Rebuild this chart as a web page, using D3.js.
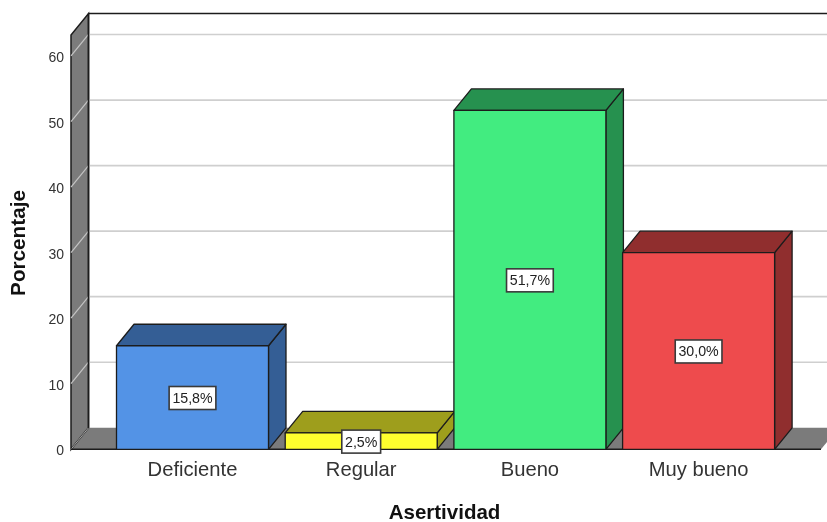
<!DOCTYPE html>
<html><head><meta charset="utf-8">
<script src="https://cdn.jsdelivr.net/npm/d3@7"></script>
<style>html,body{margin:0;background:#fff}svg{display:block;filter:blur(.35px)}text{font-family:"Liberation Sans",Arial,sans-serif}</style>
</head><body><svg id="c" width="827" height="522"></svg>
<script>
const categories=["Deficiente","Regular","Bueno","Muy bueno"];
const values=[15.8,2.5,51.7,30.0];
const labels=["15,8%","2,5%","51,7%","30,0%"];
const frontColors=["#5393e6","#ffff2e","#42ec80","#ee4b4d"];
const sideColors=["#345e95","#9e9e1c","#26914f","#902e2e"];
const yTicks=[0,10,20,30,40,50,60];

const svg=d3.select("#c");
const dx=17.5,dy=-21.5,left=71,right=821,yMax=63.2;
const y=d3.scaleLinear().domain([0,yMax]).range([449.3,35]);
const x=d3.scaleBand().domain(categories).range([108.15,782.95]).paddingInner(.099).paddingOuter(.0495);
const poly=p=>p.map(q=>q.join(",")).join(" ");
const y0=y(0),yT=y(yMax);
const dark="#1c1c1c",grey="#7b7b7b";

svg.append("polygon").attr("points",poly([[left,y0],[left+dx,y0+dy],[right+dx,y0+dy],[right,y0]])).attr("fill",grey);
svg.append("polygon").attr("points",poly([[left,y0],[left,yT],[left+dx,yT+dy],[left+dx,y0+dy]])).attr("fill",grey).attr("stroke",dark).attr("stroke-width",1.5);
svg.append("line").attr("x1",left+dx).attr("x2",827).attr("y1",yT+dy).attr("y2",yT+dy).attr("stroke",dark).attr("stroke-width",1.6);
yTicks.filter(d=>d>0).forEach(t=>{
  svg.append("line").attr("x1",left+dx).attr("x2",827).attr("y1",y(t)+dy).attr("y2",y(t)+dy).attr("stroke","#cfcfcf").attr("stroke-width",1.7);
  svg.append("line").attr("x1",left).attr("x2",left+dx).attr("y1",y(t)).attr("y2",y(t)+dy).attr("stroke","#c4c4c4").attr("stroke-width",1.2);
});
svg.append("line").attr("x1",left).attr("x2",left+dx).attr("y1",y0).attr("y2",y0+dy).attr("stroke","#a8a8a8").attr("stroke-width",1);
svg.append("line").attr("x1",left+dx).attr("x2",left+dx).attr("y1",yT+dy).attr("y2",y0+dy).attr("stroke",dark).attr("stroke-width",1.6);
svg.append("line").attr("x1",left).attr("x2",right).attr("y1",y0).attr("y2",y0).attr("stroke",dark).attr("stroke-width",1.6);

const g=svg.selectAll("g.bar").data(categories).join("g").attr("class","bar");
g.each(function(c,i){
  const s=d3.select(this),x0=x(c),x1=x0+x.bandwidth(),t=y(values[i]);
  const st={stroke:dark,"stroke-width":1.3,"stroke-linejoin":"round"};
  const add=(pts,f)=>{const e=s.append("polygon").attr("points",poly(pts)).attr("fill",f);Object.entries(st).forEach(([k,v])=>e.attr(k,v));};
  add([[x1,y0],[x1,t],[x1+dx,t+dy],[x1+dx,y0+dy]],sideColors[i]);
  add([[x0,t],[x0+dx,t+dy],[x1+dx,t+dy],[x1,t]],sideColors[i]);
  add([[x0,t],[x1,t],[x1,y0],[x0,y0]],frontColors[i]);
});
g.each(function(c,i){
  const s=d3.select(this),cx=x(c)+x.bandwidth()/2,cy=(y(values[i])+y0)/2+0.5;
  const text=s.append("text").attr("x",cx).attr("y",cy+5).attr("text-anchor","middle").attr("font-size",14.2).attr("fill","#222").text(labels[i]);
  const w=text.node().getComputedTextLength()+6.5;
  s.insert("rect","text").attr("x",cx-w/2).attr("y",cy-11.5).attr("width",w).attr("height",23).attr("fill","#fff").attr("stroke","#3a3a3a").attr("stroke-width",1.6);
});

const ay=svg.append("g").attr("transform",`translate(${left},1)`).call(d3.axisLeft(y).tickValues(yTicks).tickSize(0).tickPadding(7));
ay.select(".domain").remove();
ay.selectAll("text").attr("font-size",14).attr("font-family","'Liberation Sans'").attr("fill","#333");
const ax=svg.append("g").attr("transform",`translate(0,${y0})`).call(d3.axisBottom(x).tickSize(0).tickPadding(12));
ax.select(".domain").remove();
ax.selectAll("text").attr("font-size",20.2).attr("font-family","'Liberation Sans'").attr("fill","#333");

svg.append("text").attr("x",444.5).attr("y",519).attr("text-anchor","middle").attr("font-size",20.5).attr("font-weight","bold").attr("fill","#111").text("Asertividad");
svg.append("text").attr("transform","translate(24.5,243) rotate(-90)").attr("text-anchor","middle").attr("font-size",20.7).attr("font-weight","bold").attr("fill","#111").text("Porcentaje");
</script></body></html>
